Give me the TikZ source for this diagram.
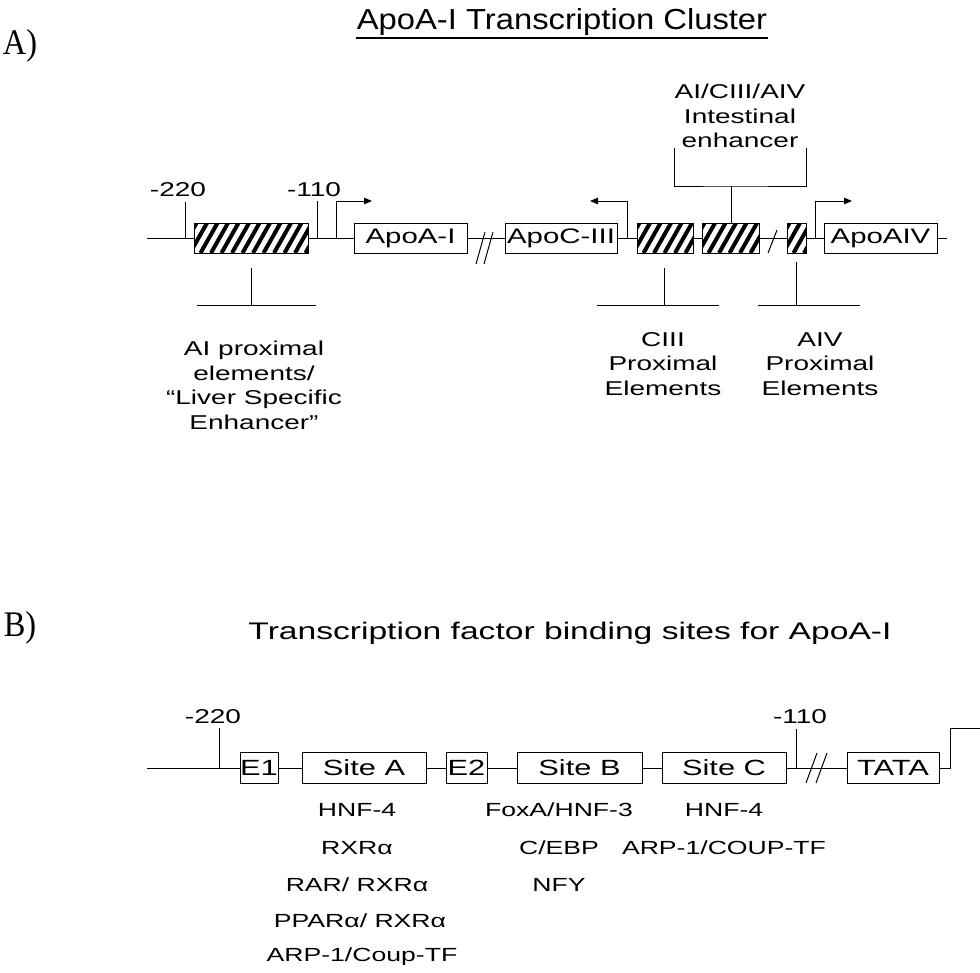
\documentclass[tikz,border=0pt]{standalone}
\usepackage{fontspec}
\setmainfont{Liberation Sans}
\newfontfamily\wsans[FakeStretch=1.4]{Liberation Sans}
\newfontfamily\nsans[FakeStretch=1.13]{Liberation Sans}
\newfontfamily\pserif[FakeStretch=0.9]{Liberation Serif}
\usetikzlibrary{arrows.meta}

\begin{document}
\begin{tikzpicture}[x=1pt, y=-1pt, line width=1pt,
  gene/.style={draw, fill=white, minimum height=30pt, inner sep=0pt,
    font=\wsans\fontsize{21}{24}\selectfont},
  site/.style={draw, fill=white, minimum height=31pt, inner sep=0pt,
    font=\wsans\fontsize{22}{24}\selectfont},
  hatchbox/.style={draw, minimum height=30pt, inner sep=0pt,
    path picture={
      \foreach \k in {-3,...,14}
        \draw[line width=4pt]
          ([xshift=\k*10.5pt-4pt]path picture bounding box.south west) -- ++(17pt,30pt);
    }},
  lab/.style={inner sep=0pt, align=center, font=\wsans\fontsize{20}{24.5}\selectfont},
  posnum/.style={inner sep=0pt, font=\wsans\fontsize{20}{24}\selectfont},
  fac/.style={inner sep=0pt, font=\wsans\fontsize{19}{22}\selectfont},
  tss/.style={-{Triangle[length=8pt,width=6.5pt]}},
  panel/.style={inner sep=0pt, font=\pserif\fontsize{36}{38}\selectfont}
]
\path[use as bounding box] (0,0) rectangle (980,972);

% ---------------- A) ApoA-I / C-III / A-IV cluster ----------------
\node[panel] (pA) at (20,46) {A)};
\node[inner sep=0pt, font=\nsans\fontsize{29}{32}\selectfont] (titleA) at (562,22) {ApoA-I Transcription Cluster};
\draw[line width=1.2pt] ([yshift=-2pt]titleA.south west) coordinate (ulA) -- ([yshift=-2pt]titleA.south east) coordinate (urA);

% elements along the cluster
\node[hatchbox, minimum width=114pt] (h1) at (251,238) {};
\node[gene, minimum width=113pt] (apoA) at (410.5,238) {ApoA-I};
\node[gene, minimum width=112pt] (apoC) at (561,238) {ApoC-III};
\node[hatchbox, minimum width=56pt] (h2) at (665,238) {};
\node[hatchbox, minimum width=57pt] (h3) at (730.5,238) {};
\node[hatchbox, minimum width=19pt] (h4) at (796.5,238) {};
\node[gene, minimum width=113pt] (apoD) at (880.5,238) {ApoAIV};
\coordinate (a0) at (147,238);
\coordinate (a9) at (947,238);

% backbone segments
\draw (a0) -- (h1.west);
\draw (h1.east) -- (apoA.west);
\draw (apoA.east) -- (apoC.west);
\draw (apoC.east) -- (h2.west);
\draw (h2.east) -- (h3.west);
\draw (h3.east) -- (h4.west);
\draw (h4.east) -- (apoD.west);
\draw (apoD.east) -- (a9);

% breaks in the sequence
\draw (476,264) -- (485,232);
\draw (484,264) -- (493,232);
\draw (768,253) -- (777,230);

% position marks
\coordinate (m220b) at (185,238); \coordinate (m220t) at (185,202);
\coordinate (m110b) at (317,238); \coordinate (m110t) at (317,201);
\draw (m220b) -- (m220t);
\draw (m110b) -- (m110t);
\node[posnum] (t220) at (178,190) {-220};
\node[posnum] (t110) at (314,190) {-110};

% transcription start arrows
\coordinate (s1) at (336,238);
\coordinate (s2) at (627,238);
\coordinate (s3) at (815,238);
\draw[tss] (s1) |- (372,201);
\draw[tss] (s2) |- (590,201);
\draw[tss] (s3) |- (852,201);

% intestinal enhancer bracket
\node[lab] (enh) at (740,116) {AI/CIII/AIV\\Intestinal\\enhancer};
\coordinate (bL) at (674,148); \coordinate (bR) at (806,148);
\coordinate (bm) at (731,186);
\draw (bL) |- (bm) -| (bR);
\draw (bm) -- (h3.north -| bm);

% proximal element brackets
\coordinate (p1) at (251,268);
\coordinate (p2) at (664,268);
\coordinate (p3) at (796,262);
\draw (p1) -- (251,305); \draw (197,305) -- (316,305);
\draw (p2) -- (664,305); \draw (597,305) -- (719,305);
\draw (p3) -- (796,305); \draw (758,305) -- (860,305);

\node[lab, anchor=north] (lAI) at (254,341) {AI proximal\\elements/\\“Liver Specific\\Enhancer”};
\node[lab, anchor=north] (lCIII) at (663,332) {CIII\\Proximal\\Elements};
\node[lab, anchor=north] (lAIV) at (820,332) {AIV\\Proximal\\Elements};

% ---------------- B) ApoA-I promoter binding sites ----------------
\node[panel] (pB) at (20,628) {B)};
\node[inner sep=0pt, font=\wsans\fontsize{24}{26}\selectfont] (titleB) at (570,633) {Transcription factor binding sites for ApoA-I};

\node[site, minimum width=38pt] (e1) at (259,768) {E1};
\node[site, minimum width=124pt] (sA) at (364,768) {Site A};
\node[site, minimum width=41pt] (e2) at (466.5,768) {E2};
\node[site, minimum width=125pt] (sB) at (579.5,768) {Site B};
\node[site, minimum width=124pt] (sC) at (724,768) {Site C};
\node[site, minimum width=92pt] (tata) at (893,768) {TATA};
\coordinate (b0) at (147,768);
\coordinate (bt) at (950,768);
\coordinate (be) at (980,728);

\draw (b0) -- (e1.west);
\draw (e1.east) -- (sA.west);
\draw (sA.east) -- (e2.west);
\draw (e2.east) -- (sB.west);
\draw (sB.east) -- (sC.west);
\draw (sC.east) -- (tata.west);
\draw (tata.east) -- (bt) |- (be);

\draw (806,783) -- (817,753);
\draw (816,783) -- (827,753);

\coordinate (n220b) at (219,768); \coordinate (n220t) at (219,728);
\coordinate (n110b) at (796,768); \coordinate (n110t) at (796,729);
\draw (n220b) -- (n220t);
\draw (n110b) -- (n110t);
\node[posnum] (u220) at (213,717) {-220};
\node[posnum] (u110) at (800,717) {-110};

% factors binding each site
\node[fac] (fa1) at (357,810) {HNF-4};
\node[fac] (fa2) at (357,848) {RXRα};
\node[fac] (fa3) at (357,885) {RAR/ RXRα};
\node[fac] (fa4) at (360,921) {PPARα/ RXRα};
\node[fac] (fa5) at (362,957) {ARP-1/Coup-TF};
\node[fac] (fb1) at (559,810) {FoxA/HNF-3};
\node[fac] (fb2) at (559,848) {C/EBP};
\node[fac] (fb3) at (559,885) {NFY};
\node[fac] (fc1) at (724,810) {HNF-4};
\node[fac] (fc2) at (724,848) {ARP-1/COUP-TF};
\end{tikzpicture}
\end{document}
